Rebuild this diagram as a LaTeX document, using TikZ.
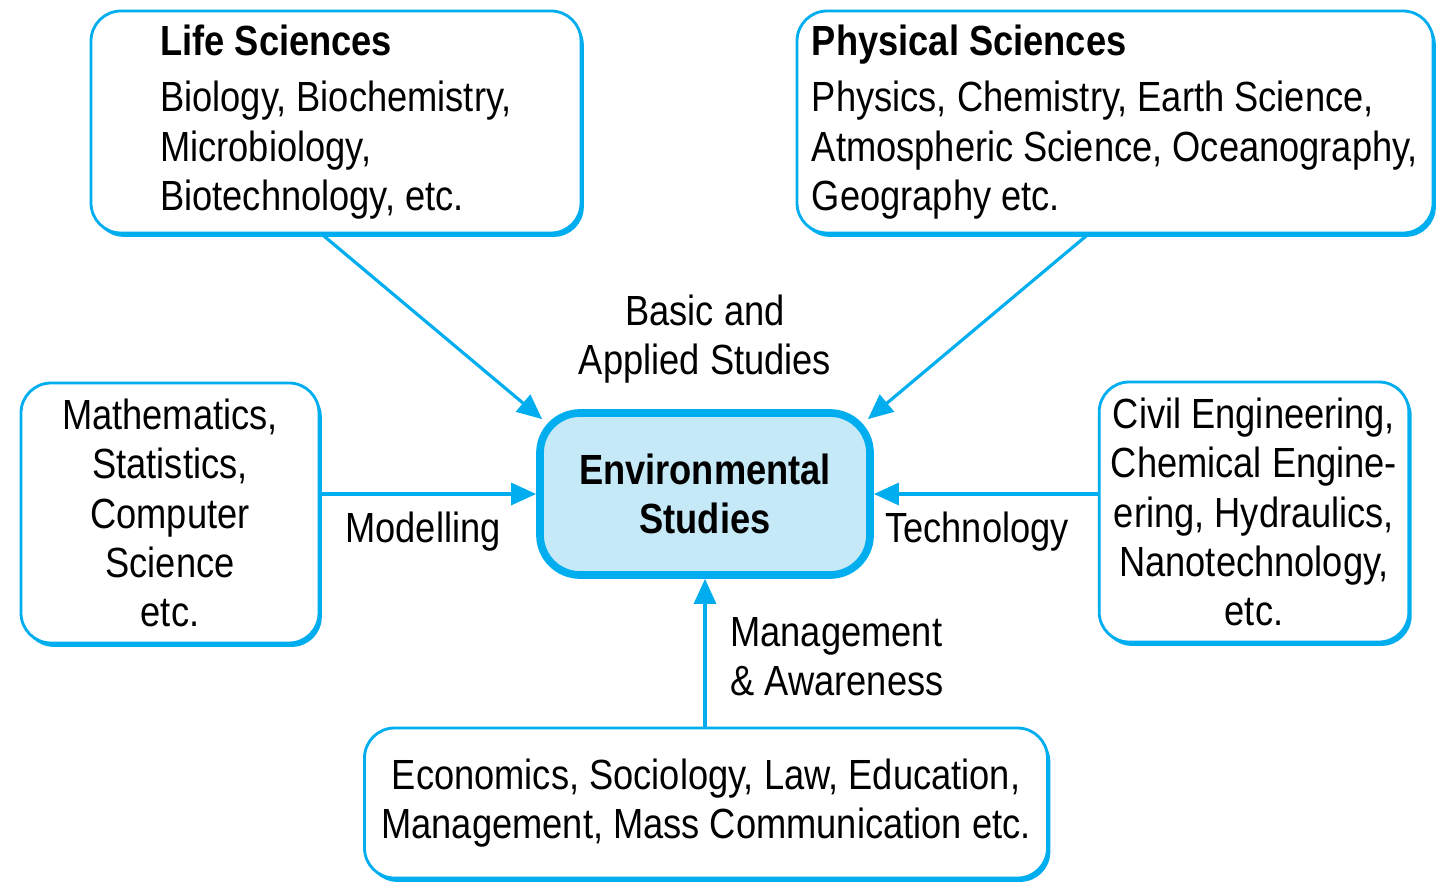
\documentclass[tikz,border=0pt]{standalone}
\usepackage{fontspec}
\setmainfont{Liberation Sans}[FakeStretch=0.86]
\usepackage{tikz}
\usetikzlibrary{arrows.meta,shadows}
\definecolor{edge}{HTML}{00AEEF}
\definecolor{core}{HTML}{C6E9F8}

\begin{document}
\begin{tikzpicture}[box/.style = {draw=edge, line width=0.8pt, rounded corners=3mm, fill=white,
        drop shadow={shadow xshift=0.8pt, shadow yshift=-1.1pt, fill=edge, opacity=1}},
    hub/.style = {draw=edge, line width=2.2pt, rounded corners=4mm, fill=core,
        minimum width=3.3cm, minimum height=1.62cm, align=center,
        font=\fontsize{12}{14}\selectfont\bfseries},
    link/.style = {draw=edge, line width=0.9pt, -{Triangle[length=2.5mm,width=2.2mm]}},
    every node/.style = {font=\fontsize{12}{14}\selectfont}]
    \useasboundingbox (0,0) rectangle (14.36,8.86);
    \node[hub] (env) at (7.05,3.92) {Environmental\\Studies};
    \node[box, minimum width=4.9cm, minimum height=2.22cm, align=left] (life) at (3.36,7.64)
        {\textbf{Life Sciences}\\[2pt] Biology, Biochemistry,\\ Microbiology,\\ Biotechnology, etc.};
    \node[box, minimum width=6.36cm, minimum height=2.22cm, align=left] (phys) at (11.15,7.64)
        {\textbf{Physical Sciences}\\[2pt] Physics, Chemistry, Earth Science,\\ Atmospheric Science, Oceanography,\\ Geography etc.};
    \node[box, minimum width=2.98cm, minimum height=2.6cm, align=center] (math) at (1.70,3.73)
        {Mathematics,\\ Statistics,\\ Computer\\ Science\\ etc.};
    \node[box, minimum width=3.0cm, minimum height=2.6cm, align=center] (civil) at (12.54,3.74)
        {Civil Engineering,\\ Chemical Engine-\\ ering, Hydraulics,\\ Nanotechnology,\\ etc.};
    \node[box, minimum width=6.83cm, minimum height=1.5cm, align=center] (econ) at (7.06,0.83)
        {Economics, Sociology, Law, Education,\\ Management, Mass Communication etc.};
    % labels on the links
    \node[align=center] (basic) at (7.05,5.47) {Basic and\\ Applied Studies};
    \node (model) at (4.23,3.54) {Modelling};
    \node (tech) at (9.77,3.54) {Technology};
    \node[anchor=west, align=left] (manage) at (7.18,2.29) {Management\\ \& Awareness};
    % links into the hub
    \draw[link] ([xshift=-1.4mm]life.south) -- ([shift={(0.6mm,-1mm)}]env.north west);
    \draw[link] ([xshift=-2.7mm]phys.south) -- ([shift={(-0.6mm,-1mm)}]env.north east);
    \draw[link] (math.east |- env.west) -- (env.west);
    \draw[link] (civil.west |- env.east) -- (env.east);
    \draw[link] (env.south |- econ.north) -- (env.south);
\end{tikzpicture}
\end{document}
